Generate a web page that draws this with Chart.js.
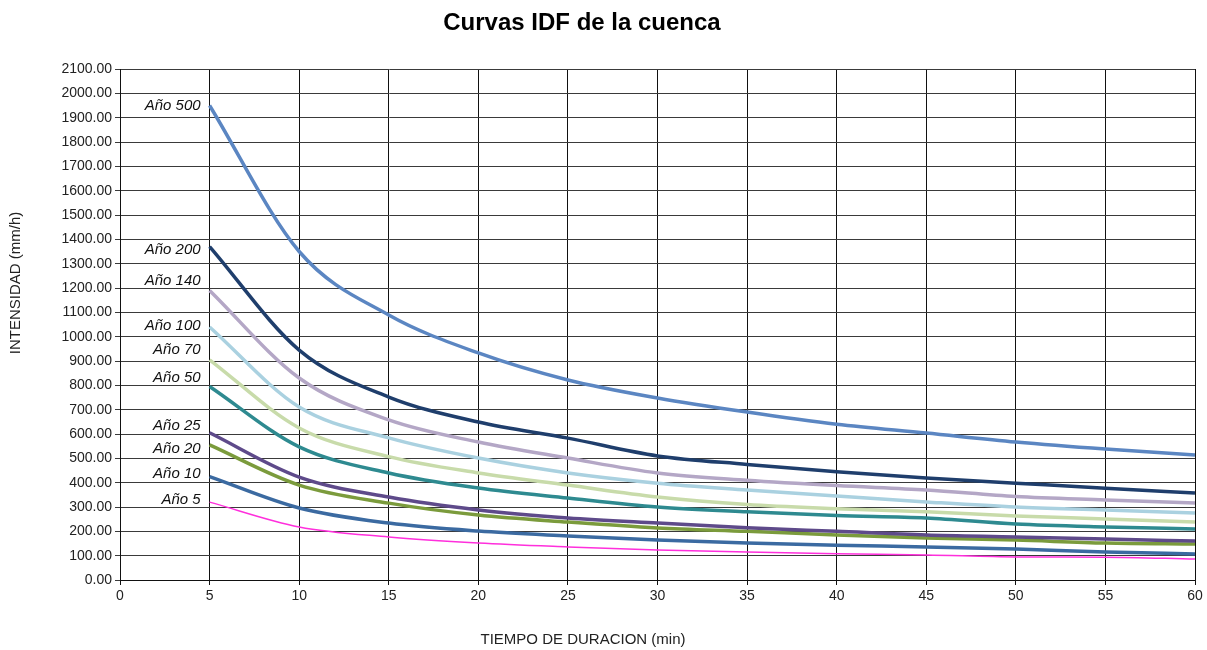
<!DOCTYPE html>
<html><head><meta charset="utf-8">
<script src="https://cdn.jsdelivr.net/npm/chart.js@4.4.0/dist/chart.umd.min.js"></script>
<style>html,body{margin:0;padding:0;background:#fff}</style>
</head><body>
<canvas id="c" width="1207" height="650"></canvas>
<script>
const durations = [5,10,15,20,25,30,35,40,45,50,55,60];
const seriesNames = ['Año 500','Año 200','Año 140','Año 100','Año 70','Año 50','Año 25','Año 20','Año 10','Año 5'];
const t500 = [1950,1350,1089,933,822,748,690,640,604,567,538,514];
const t200 = [1370,945,752,649,583,510,475,445,419,398,377,358];
const t140 = [1190,830,658,567,501,440,410,388,370,343,329,316];
const t100 = [1040,711,584,501,440,398,370,345,321,300,288,275];
const t70  = [905,625,507,440,390,341,310,293,280,263,251,238];
const t50  = [795,547,440,378,337,300,280,265,255,230,218,210];
const t25  = [605,423,341,288,255,234,215,200,185,177,168,160];
const t20  = [555,390,316,267,238,214,200,185,173,164,152,148];
const t10  = [425,296,234,201,181,164,152,143,136,127,115,107];
const t5   = [320,218,177,152,136,123,115,108,103,95,94,86];
const yTicks = [0,2100,100];
const xTicks = [0,60,5];

const allSeries = [t500,t200,t140,t100,t70,t50,t25,t20,t10,t5];
const colors = ['#5b86c2','#1f3e6c','#b4a7c6','#aad1e0','#c8dbaa','#2e8a90','#5e4a8a','#7b9b3c','#3b6aa1','#ff2fdc'];
const widths = [3.5,3.5,3.5,3.5,3.5,3.5,3.5,3.5,3.5,1.5];
const labelDy = [0,3,-10,-1,-10,-9,-7,4,-3,-2];

const datasets = allSeries.map((vals,i)=>({
  label: seriesNames[i],
  data: durations.map((d,j)=>({x:d,y:vals[j]})),
  borderColor: colors[i],
  backgroundColor: colors[i],
  borderWidth: widths[i],
  pointRadius: 0,
  cubicInterpolationMode: 'monotone',
  fill: false,
  labelDy: labelDy[i]
}));

const textPlugin = {
  id: 'texts',
  afterDatasetsDraw(chart){
    const ctx = chart.ctx, xs = chart.scales.x, ys = chart.scales.y;
    ctx.save();
    ctx.fillStyle = '#111';
    ctx.font = 'italic 15px "Liberation Sans", Arial, sans-serif';
    ctx.textAlign = 'right'; ctx.textBaseline = 'middle';
    chart.data.datasets.forEach(ds=>{
      const p = ds.data[0];
      ctx.fillText(ds.label, xs.getPixelForValue(p.x)-9, ys.getPixelForValue(p.y)+ds.labelDy);
    });
    ctx.restore();
  },
  afterDraw(chart){
    const ctx = chart.ctx;
    ctx.save();
    ctx.fillStyle = '#000';
    ctx.textAlign = 'center'; ctx.textBaseline = 'middle';
    ctx.font = 'bold 24px "Liberation Sans", Arial, sans-serif';
    ctx.fillText('Curvas IDF de la cuenca', 582, 23);
    ctx.fillStyle = '#222';
    ctx.font = '15px "Liberation Sans", Arial, sans-serif';
    ctx.fillText('TIEMPO DE DURACION (min)', 583, 640);
    ctx.translate(16, 283);
    ctx.rotate(-Math.PI/2);
    ctx.fillText('INTENSIDAD (mm/h)', 0, 0);
    ctx.restore();
  }
};

new Chart(document.getElementById('c'), {
  type: 'line',
  data: { datasets },
  options: {
    responsive: false,
    animation: false,
    layout: { padding: { top: 69, right: 12, left: 0, bottom: 0 } },
    plugins: { legend: { display: false }, title: { display: false }, tooltip: { enabled: false } },
    scales: {
      x: {
        type: 'linear', min: xTicks[0], max: xTicks[1],
        ticks: { stepSize: xTicks[2], color: '#222', font: { family: '"Liberation Sans", Arial, sans-serif', size: 14 }, padding: 3, maxRotation: 0 },
        grid: { color: '#111', lineWidth: 1, tickLength: 5 },
        border: { color: '#111' },
        afterFit(s){ s.height = 70; }
      },
      y: {
        min: yTicks[0], max: yTicks[1],
        ticks: { stepSize: yTicks[2], color: '#222', font: { family: '"Liberation Sans", Arial, sans-serif', size: 14 }, padding: 3,
                 callback: v => Number(v).toFixed(2) },
        grid: { color: '#3a3a3a', lineWidth: 1, tickLength: 5 },
        border: { color: '#111' },
        afterFit(s){ s.width = 120; }
      }
    }
  },
  plugins: [textPlugin]
});
</script>
</body></html>
